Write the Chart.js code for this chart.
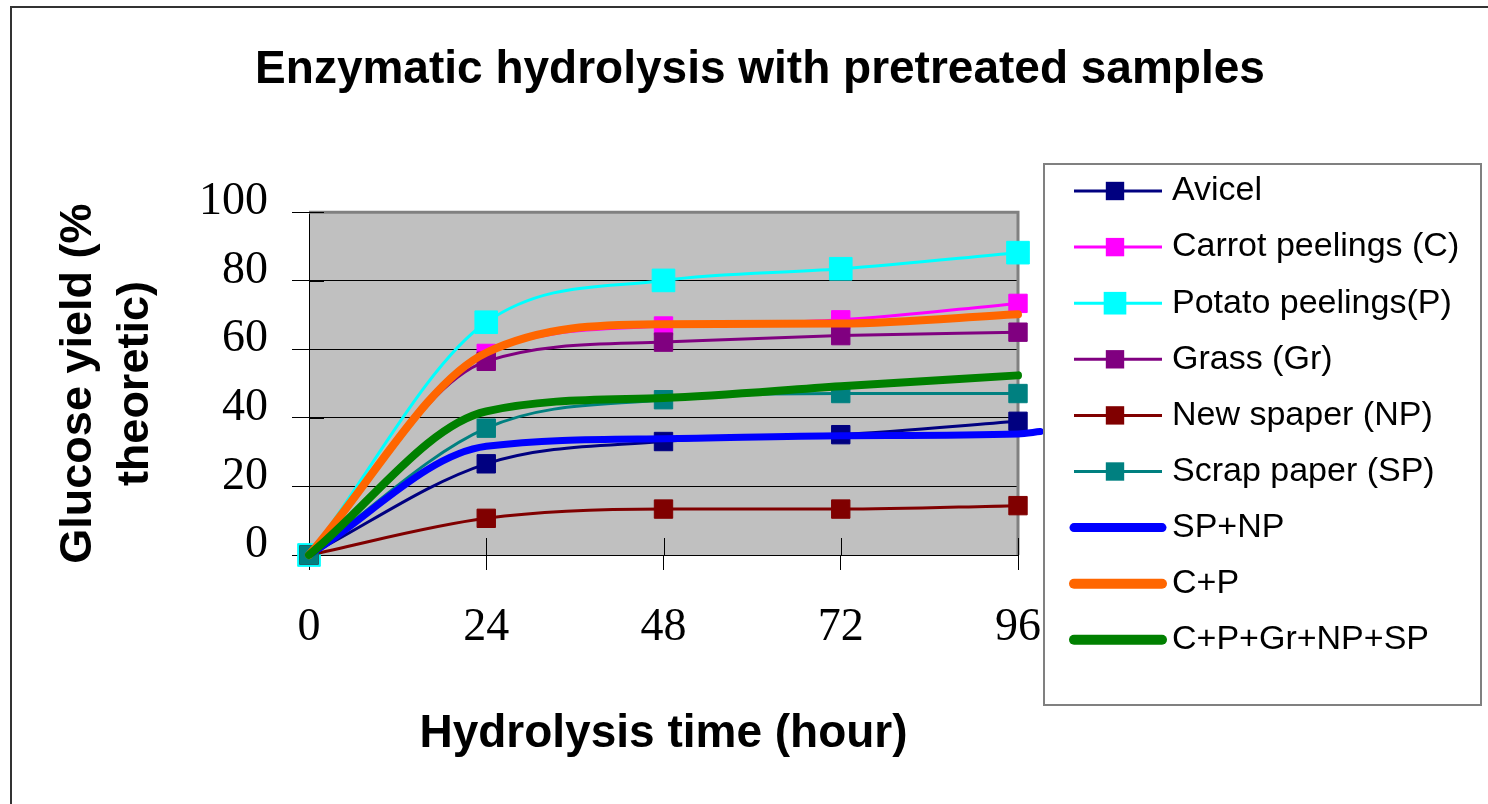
<!DOCTYPE html>
<html>
<head>
<meta charset="utf-8">
<script src="https://cdn.jsdelivr.net/npm/chart.js@4/dist/chart.umd.min.js"></script>
<style>
  html, body { margin: 0; padding: 0; background: #ffffff; }
  #wrap { width: 1488px; height: 804px; }
</style>
</head>
<body>
<div id="wrap"><canvas id="c" width="1488" height="804"></canvas></div>
<script>
// ---- Data ----
const hours = [0, 24, 48, 72, 96];
const avicel = [0, 26.6, 33.1, 35.1, 39.0];
const carrot = [0, 58.8, 66.8, 68.6, 73.4];
const potato = [0, 67.9, 80.1, 83.5, 88.2];
const grass = [0, 56.5, 62.1, 64.0, 65.0];
const newspaper = [0, 10.7, 13.4, 13.4, 14.4];
const scrapPaper = [0, 37.0, 45.3, 47.1, 47.1];
const spnpHours = [0, 24, 48, 72, 96, 99];
const spnp = [0, 31.7, 33.9, 34.8, 35.3, 36.0];
const cp = [0, 59.0, 67.3, 67.5, 70.2];
const mix = [0, 41.9, 45.8, 49.2, 52.4];

const seriesNames = [
  'Avicel', 'Carrot peelings (C)', 'Potato peelings(P)', 'Grass (Gr)',
  'New spaper (NP)', 'Scrap paper (SP)', 'SP+NP', 'C+P', 'C+P+Gr+NP+SP'
];
const xTicks = [0, 24, 48, 72, 96];
const yTicks = [0, 20, 40, 60, 80, 100];

const chartTitle = 'Enzymatic hydrolysis with pretreated samples';
const xTitle = 'Hydrolysis time (hour)';
const yTitle = ['Glucose yield (%', 'theoretic)'];

// ---- Helpers ----
function pts(xs, ys) { return ys.map((v, i) => ({ x: xs[i], y: v })); }

function markerSeries(label, xs, ys, color, radius, order) {
  return {
    label, data: pts(xs, ys), borderColor: color, backgroundColor: color,
    borderWidth: 3, pointStyle: 'rect', pointRadius: radius,
    pointBackgroundColor: color, pointBorderColor: color, pointBorderWidth: 1,
    cubicInterpolationMode: 'monotone', order, clip: false
  };
}
function thickSeries(label, xs, ys, color, width, order) {
  return {
    label, data: pts(xs, ys), borderColor: color, backgroundColor: color,
    borderWidth: width, pointRadius: 0, borderCapStyle: 'round', borderJoinStyle: 'round',
    cubicInterpolationMode: 'monotone', order, clip: false
  };
}

const datasets = [
  markerSeries(seriesNames[0], hours, avicel, '#000080', 13, 9),
  markerSeries(seriesNames[1], hours, carrot, '#FF00FF', 13, 8),
  markerSeries(seriesNames[2], hours, potato, '#00FFFF', 16, 7),
  markerSeries(seriesNames[3], hours, grass, '#800080', 13, 6),
  markerSeries(seriesNames[4], hours, newspaper, '#800000', 13, 5),
  markerSeries(seriesNames[5], hours, scrapPaper, '#008080', 13, 4),
  thickSeries(seriesNames[6], spnpHours, spnp, '#0000FF', 7, 3),
  thickSeries(seriesNames[7], hours, cp, '#FF6600', 8, 2),
  thickSeries(seriesNames[8], hours, mix, '#008000', 8, 1)
];

const SANS = "'Liberation Sans', Arial, sans-serif";
const SERIF = "'Liberation Serif', 'Times New Roman', serif";

// ---- Decoration plugin: frame, plot background, borders, cross ticks, legend ----
const deco = {
  id: 'deco',
  beforeDraw(chart) {
    const ctx = chart.ctx, a = chart.chartArea;
    ctx.save();
    ctx.fillStyle = '#ffffff';
    ctx.fillRect(0, 0, chart.width, chart.height);
    ctx.strokeStyle = '#333333';
    ctx.lineWidth = 2;
    ctx.strokeRect(11, 7, chart.width + 20, chart.height + 20);
    ctx.fillStyle = '#C0C0C0';
    ctx.fillRect(a.left, a.top, a.right - a.left, a.bottom - a.top);
    ctx.restore();
  },
  beforeDatasetsDraw(chart) {
    const ctx = chart.ctx, a = chart.chartArea;
    const xs = chart.scales.x, ys = chart.scales.y;
    ctx.save();
    ctx.strokeStyle = '#808080';
    ctx.lineWidth = 3;
    ctx.beginPath();
    ctx.moveTo(a.left, a.top);
    ctx.lineTo(a.right, a.top);
    ctx.lineTo(a.right, a.bottom);
    ctx.stroke();
    ctx.strokeStyle = '#000000';
    ctx.lineWidth = 1;
    ctx.beginPath();
    yTicks.forEach(v => {
      const y = Math.round(ys.getPixelForValue(v)) + 0.5;
      ctx.moveTo(a.left, y); ctx.lineTo(a.left + 15, y);
    });
    xTicks.forEach(v => {
      const x = Math.round(xs.getPixelForValue(v)) + 0.5;
      ctx.moveTo(x, a.bottom); ctx.lineTo(x, a.bottom - 17);
    });
    ctx.stroke();
    ctx.restore();
  },
  afterDraw(chart) {
    const ctx = chart.ctx;
    const bx = 1044, by = 164, bw = 437, bh = 541;
    ctx.save();
    ctx.fillStyle = '#ffffff';
    ctx.fillRect(bx, by, bw, bh);
    ctx.strokeStyle = '#808080';
    ctx.lineWidth = 2;
    ctx.strokeRect(bx, by, bw, bh);
    chart.data.datasets.forEach((ds, i) => {
      const y = 191 + i * 56.1;
      ctx.strokeStyle = ds.borderColor;
      ctx.lineWidth = ds.pointRadius ? ds.borderWidth : ds.borderWidth + 2;
      ctx.lineCap = ds.pointRadius ? 'butt' : 'round';
      ctx.beginPath();
      ctx.moveTo(1074, y); ctx.lineTo(1162, y);
      ctx.stroke();
      if (ds.pointRadius) {
        const s = ds.pointRadius * Math.SQRT1_2;
        ctx.fillStyle = ds.pointBackgroundColor;
        ctx.fillRect(1115 - s, y - s, 2 * s, 2 * s);
      }
      ctx.fillStyle = '#000000';
      ctx.font = '34px ' + SANS;
      ctx.textBaseline = 'middle';
      ctx.textAlign = 'left';
      ctx.fillText(ds.label, 1172, y);
    });
    ctx.restore();
  }
};

function fixXRange(s) { s.min = xTicks[0]; s.max = xTicks[xTicks.length - 1]; }

new Chart(document.getElementById('c'), {
  type: 'line',
  data: { datasets },
  plugins: [deco],
  options: {
    responsive: false,
    animation: false,
    devicePixelRatio: 1,
    events: [],
    layout: { padding: { left: 32, right: 0, top: 0, bottom: 0 } },
    plugins: {
      legend: { display: false },
      tooltip: { enabled: false },
      title: {
        display: true, text: chartTitle, color: '#000000',
        font: { family: SANS, size: 46, weight: 'bold', lineHeight: 1.2 },
        padding: { top: 43, bottom: 114 }
      }
    },
    scales: {
      x: {
        type: 'linear', bounds: 'data',
        afterDataLimits: fixXRange,
        afterBuildTicks: s => { s.ticks = xTicks.map(v => ({ value: v })); fixXRange(s); },
        afterFit: s => { s.height = 249; },
        grid: { display: true, drawOnChartArea: false, drawTicks: true, tickLength: 15, color: '#000000', lineWidth: 1 },
        border: { display: true, color: '#000000', width: 1 },
        ticks: { color: '#000000', padding: 30, maxRotation: 0, font: { family: SERIF, size: 46 } },
        title: {
          display: true, text: xTitle, color: '#000000',
          font: { family: SANS, size: 46, weight: 'bold', lineHeight: 1.2 },
          padding: { top: 0, bottom: 42 }
        }
      },
      y: {
        type: 'linear', min: 0, max: 100,
        afterBuildTicks: s => { s.ticks = yTicks.map(v => ({ value: v })); },
        afterFit: s => { s.width = 277; },
        grid: { display: true, drawOnChartArea: true, drawTicks: true, tickLength: 17, color: '#000000', lineWidth: 1 },
        border: { display: true, color: '#000000', width: 1 },
        ticks: { color: '#000000', padding: 24, labelOffset: -10, font: { family: SERIF, size: 46 } },
        title: {
          display: true, text: yTitle, color: '#000000',
          font: { family: SANS, size: 45, weight: 'bold', lineHeight: 1.27 },
          padding: { top: 18, bottom: 0 }
        }
      },
      spacer: {
        type: 'linear', position: 'right', display: true,
        grid: { display: false }, border: { display: false },
        ticks: { display: false }, title: { display: false },
        afterFit: s => { s.width = 470; }
      }
    }
  }
});
</script>
</body>
</html>
